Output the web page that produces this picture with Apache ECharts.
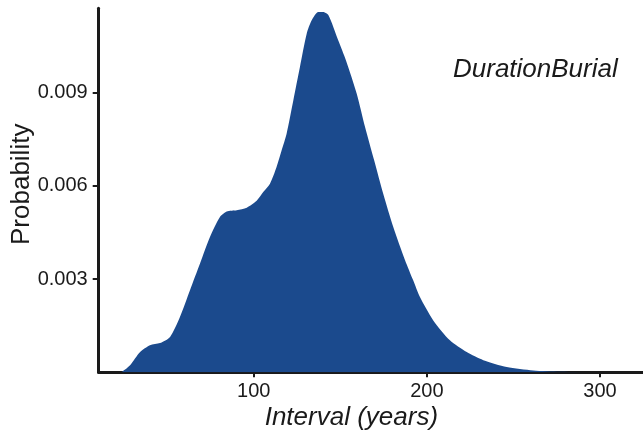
<!DOCTYPE html>
<html>
<head>
<meta charset="utf-8">
<script src="https://cdn.jsdelivr.net/npm/echarts@6/dist/echarts.min.js"></script>
<style>
  html, body { margin: 0; padding: 0; background: #fff; }
  #chart { width: 643px; height: 439px; }
</style>
</head>
<body>
<div id="chart"></div>
<script>
// interval in years
const intervals = [10, 22, 24, 28.6, 34.4, 40.1, 45.9, 51.7, 57.4, 63.2, 69.0, 74.8, 80.5, 84.4, 90.2, 96.0,
    101.7, 105.5, 109.4, 113.2, 116.1, 119.0, 122.9, 126.7, 130.6, 133.5, 137.3, 140, 143.1, 148.8, 153.3,
    159.5, 164.3, 169.6, 174.8, 180.6, 187.4, 192.1, 196.0, 203.7, 213.3, 223.0, 232.6, 246.1, 261.4,
    276.8, 300, 325];
const probs = [0, 0, 0.00002, 0.000225, 0.00065, 0.00087, 0.00094, 0.00114, 0.00178, 0.00264, 0.0035, 0.00436,
    0.0050, 0.00518, 0.00522, 0.0053, 0.00552, 0.0058, 0.00607, 0.00661, 0.00714, 0.00768, 0.00876, 0.00983,
    0.0109, 0.01133, 0.0116, 0.0116, 0.0115, 0.01069, 0.01004, 0.00897, 0.0079, 0.00682, 0.00575, 0.00468,
    0.00361, 0.00296, 0.00242, 0.00167, 0.00103, 0.00065, 0.00039, 0.00017, 0.00006, 0.00002, 0, 0];
const xTicks = [100, 200, 300];
const yTicks = [0.003, 0.006, 0.009];

const ink = '#1a1a1a';
const fill = '#1b4a8d';

const chart = echarts.init(document.getElementById('chart'));
chart.setOption({
    animation: false,
    grid: { left: 98.7, right: 0, top: 8.3, bottom: 66.7, outerBoundsMode: 'none', containLabel: false },
    xAxis: {
        type: 'value',
        min: 10.5,
        max: 324.8,
        name: 'Interval (years)',
        nameLocation: 'middle',
        nameMoveOverlap: false,
        nameGap: 32,
        nameTextStyle: {
            fontFamily: 'Liberation Sans', fontSize: 26, fontStyle: 'italic', color: ink,
            padding: [0, 39, 0, 0]
        },
        axisLine: { lineStyle: { color: ink, width: 3 } },
        axisTick: { customValues: xTicks, length: 5, lineStyle: { color: ink, width: 2 } },
        axisLabel: { customValues: xTicks, fontFamily: 'Liberation Sans', fontSize: 20, color: ink, margin: 9 },
        splitLine: { show: false }
    },
    yAxis: {
        type: 'value',
        min: 0,
        max: 0.011717,
        name: 'Probability',
        nameLocation: 'middle',
        nameMoveOverlap: false,
        nameGap: 64,
        nameTextStyle: {
            fontFamily: 'Liberation Sans', fontSize: 26, color: ink,
            padding: [0, 0, 0, 12]
        },
        axisLine: { show: true, lineStyle: { color: ink, width: 3 } },
        axisTick: { show: true, customValues: yTicks, length: 6, lineStyle: { color: ink, width: 2 } },
        axisLabel: {
            customValues: yTicks, fontFamily: 'Liberation Sans', fontSize: 20, color: ink, margin: 11,
            formatter: v => v.toFixed(3)
        },
        splitLine: { show: false }
    },
    graphic: [{
        type: 'text',
        left: 453,
        top: 57,
        style: {
            text: 'DurationBurial',
            font: 'italic 26px "Liberation Sans"',
            fill: ink
        }
    }],
    series: [{
        type: 'line',
        data: intervals.map((x, i) => [x, probs[i]]),
        smooth: 0.25,
        showSymbol: false,
        lineStyle: { width: 0 },
        areaStyle: { color: fill, opacity: 1 }
    }]
});
</script>
</body>
</html>
